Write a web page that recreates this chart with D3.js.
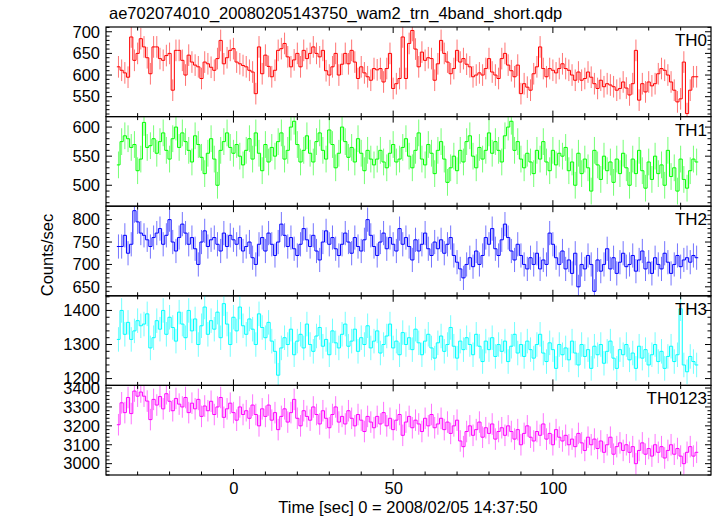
<!DOCTYPE html>
<html><head><meta charset="utf-8">
<script src="https://cdn.jsdelivr.net/npm/d3@7"></script>
<style>
html,body{margin:0;padding:0;background:#fff;}
svg{display:block;font-family:"Liberation Sans",Arial,Helvetica,sans-serif;}
</style></head>
<body><svg id="c" width="717" height="516"></svg>
<script>
const title = "ae702074010_20080205143750_wam2_trn_4band_short.qdp";
const xLabel = "Time [sec] 0 = 2008/02/05 14:37:50";
const yLabel = "Counts/sec";
const binStart = -36;   // centre of first 1-s bin
const binWidth = 1;
const xTickMajor = [0, 50, 100];
const xTickMinor = [-30,-20,-10,10,20,30,40,60,70,80,90,110,120,130,140];

const names = ["TH0","TH1","TH2","TH3","TH0123"];
const colors = ["#ff0000","#00ff00","#0000ff","#00ffff","#ff00ff"];
const yDomains = [[504,711],[464,618],[630,830],[1180,1443],[2940,3414]];
const yTickLabels = [[550,600,650,700],[500,550,600],[650,700,750,800],[1200,1300,1400],[3000,3100,3200,3300,3400]];
const yMinorStep = [10,10,10,20,20];
const errors = [25,23,27,36,57];

const th0 = [
619,611,605,595,688,634,650,684,665,640,
603,665,665,638,634,645,650,565,657,657,
634,600,646,630,623,619,592,630,626,618,
611,638,680,626,640,657,661,630,626,622,
619,611,607,557,665,603,646,620,596,611,
657,661,673,642,619,635,650,619,657,638,
650,665,650,642,657,610,600,619,650,600,
625,650,626,657,630,592,619,605,596,588,
615,612,615,584,615,650,569,580,592,688,
592,673,703,660,619,653,634,640,638,588,
626,680,650,630,603,615,657,630,638,625,
619,596,600,605,600,615,638,607,600,592,
638,650,623,610,596,623,557,580,572,565,
603,619,665,615,596,615,611,605,615,626,
615,611,600,588,607,588,592,607,595,580,
569,588,573,580,577,573,565,569,584,570,
554,580,657,542,580,561,584,575,580,603,
615,611,600,584,565,538,545,630,511,565,
596,596];
const th1 = [
535,575,585,580,565,570,525,545,608,565,
568,580,555,575,590,560,545,580,600,565,
590,575,560,540,585,570,548,520,555,580,
545,500,560,575,590,565,555,570,550,535,
560,580,545,590,555,525,570,540,565,550,
575,590,545,560,600,610,570,540,560,585,
555,540,575,590,560,545,595,570,530,555,
600,575,548,565,540,580,555,525,560,545,
535,545,560,540,530,555,570,540,545,565,
580,550,530,560,590,545,535,570,555,520,
560,575,545,505,530,550,525,560,540,575,
585,550,530,565,545,560,590,555,575,560,
540,585,600,610,560,575,545,530,555,540,
520,560,545,575,540,525,560,535,555,550,
565,525,540,500,555,520,545,530,490,560,
535,510,550,525,540,505,545,520,555,530,
500,545,520,560,525,495,540,510,550,520,
535,500,560,515,530,490,545,510,495,525,
545,540];
const th2 = [
740,740,765,725,745,820,795,770,765,755,
740,760,770,780,745,765,800,750,730,760,
790,770,745,760,735,700,750,775,740,755,
760,745,730,770,740,765,755,745,760,730,
740,750,715,700,745,760,730,770,745,720,
750,790,765,740,760,735,720,745,780,755,
740,765,730,710,750,775,745,760,735,720,
745,770,750,725,760,740,730,755,800,765,
740,720,750,770,735,760,745,730,780,745,
760,740,710,755,730,745,770,735,720,750,
735,755,725,745,760,720,705,690,670,700,
715,695,730,700,720,760,745,780,735,720,
755,790,760,730,710,745,720,700,690,715,
700,725,690,710,700,770,745,715,700,730,
690,710,680,725,650,700,690,720,700,640,
710,685,700,735,690,715,680,705,725,695,
700,720,685,710,730,690,705,680,715,700,
690,725,705,680,700,720,695,710,715,705,
720,715];
const th3 = [
1315,1400,1330,1365,1315,1340,1370,1355,1360,1390,
1290,1320,1370,1345,1400,1330,1380,1350,1310,1395,
1360,1320,1400,1340,1375,1300,1355,1410,1330,1370,
1345,1395,1320,1420,1360,1300,1380,1340,1410,1355,
1330,1375,1345,1300,1390,1350,1320,1365,1310,1280,
1210,1290,1320,1300,1345,1270,1310,1330,1290,1360,
1300,1280,1325,1350,1295,1315,1270,1340,1305,1290,
1330,1360,1295,1310,1345,1280,1320,1300,1355,1290,
1310,1340,1275,1300,1325,1360,1290,1310,1270,1335,
1300,1320,1285,1345,1305,1270,1310,1330,1290,1260,
1305,1325,1280,1300,1350,1295,1260,1310,1285,1320,
1300,1270,1330,1295,1250,1310,1285,1320,1265,1300,
1280,1310,1250,1295,1330,1275,1300,1265,1310,1285,
1260,1300,1330,1275,1250,1305,1285,1230,1300,1270,
1290,1255,1310,1275,1240,1300,1265,1285,1230,1295,
1270,1300,1245,1280,1310,1260,1230,1285,1270,1300,
1255,1275,1230,1295,1260,1285,1240,1270,1300,1250,
1280,1230,1265,1295,1250,1270,1405,1240,1220,1265,
1250,1240];
const th0123 = [
3206,3322,3270,3350,3265,3384,3357,3379,3357,3331,
3233,3340,3310,3355,3290,3370,3330,3280,3345,3315,
3300,3350,3270,3320,3290,3340,3250,3305,3280,3330,
3260,3300,3350,3245,3290,3320,3270,3230,3300,3260,
3280,3240,3310,3260,3200,3290,3250,3310,3230,3270,
3180,3250,3290,3220,3270,3340,3240,3200,3280,3250,
3230,3300,3260,3210,3280,3240,3190,3260,3300,3220,
3250,3210,3280,3240,3200,3260,3230,3170,3250,3220,
3190,3250,3210,3270,3200,3240,3180,3230,3260,3150,
3220,3250,3190,3230,3210,3170,3240,3200,3260,3190,
3210,3240,3180,3220,3160,3200,3230,3120,3090,3170,
3200,3150,3180,3220,3140,3190,3160,3210,3130,3170,
3190,3150,3200,3170,3130,3180,3100,3160,3200,3140,
3120,3170,3150,3210,3130,3160,3100,3180,3140,3120,
3150,3100,3130,3090,3160,3110,3070,3140,3100,3130,
3080,3120,3060,3100,3140,3050,3090,3110,3070,3100,
3060,3090,3000,3070,3110,3050,3080,3040,3100,3060,
3090,3030,3070,3100,3050,3080,3040,3000,3060,3090,
3040,3060];
const series = [th0, th1, th2, th3, th0123];

const svg = d3.select("#c");
const pLeft = 106, pRight = 711, pTop = 27, pBottom = 475;
const panelH = (pBottom - pTop) / names.length;
const x = d3.scaleLinear().domain([-39.9, 149.5]).range([pLeft, pRight]);
const FONT = "Liberation Sans,Arial,sans-serif";

svg.append("text").attr("x", 109).attr("y", 19).attr("font-size", 16.5).attr("fill", "#000").text(title);

series.forEach((vals, k) => {
  const y0 = pTop + k * panelH, y1 = y0 + panelH;
  const y = d3.scaleLinear().domain(yDomains[k]).range([y1, y0]);
  const g = svg.append("g");
  const clipId = "clip" + k;
  svg.append("clipPath").attr("id", clipId).append("rect")
    .attr("x", pLeft).attr("y", y0).attr("width", pRight - pLeft).attr("height", panelH);
  const data = vals.map((v, i) => ({t: binStart + i * binWidth, v}));
  const gd = g.append("g").attr("clip-path", `url(#${clipId})`);
  gd.selectAll("line.err").data(data).join("line")
    .attr("x1", d => x(d.t)).attr("x2", d => x(d.t))
    .attr("y1", d => y(d.v - errors[k])).attr("y2", d => y(d.v + errors[k]))
    .attr("stroke", colors[k]).attr("stroke-opacity", 0.55).attr("stroke-width", 1);
  const pts = data.map(d => ({t: d.t - binWidth / 2, v: d.v}));
  pts.push({t: data[data.length - 1].t + binWidth / 2, v: data[data.length - 1].v});
  const line = d3.line().x(d => x(d.t)).y(d => y(d.v)).curve(d3.curveStepAfter);
  gd.append("path").attr("d", line(pts)).attr("fill", "none")
    .attr("stroke", colors[k]).attr("stroke-width", 1);

  g.append("rect").attr("x", pLeft).attr("y", y0).attr("width", pRight - pLeft).attr("height", panelH)
    .attr("fill", "none").attr("stroke", "#000").attr("stroke-width", 1.2);

  const tk = g.append("g").attr("stroke", "#000").attr("stroke-width", 1);
  xTickMajor.forEach(t => {
    tk.append("line").attr("x1", x(t)).attr("x2", x(t)).attr("y1", y1).attr("y2", y1 - 6);
    tk.append("line").attr("x1", x(t)).attr("x2", x(t)).attr("y1", y0).attr("y2", y0 + 6);
  });
  xTickMinor.forEach(t => {
    tk.append("line").attr("x1", x(t)).attr("x2", x(t)).attr("y1", y1).attr("y2", y1 - 3.5);
    tk.append("line").attr("x1", x(t)).attr("x2", x(t)).attr("y1", y0).attr("y2", y0 + 3.5);
  });
  const [dmin, dmax] = yDomains[k];
  const minor = d3.range(Math.ceil(dmin / yMinorStep[k]) * yMinorStep[k], dmax, yMinorStep[k]);
  minor.forEach(v => {
    const isMajor = yTickLabels[k].includes(v);
    const len = isMajor ? 6 : 3.5;
    tk.append("line").attr("x1", pLeft).attr("x2", pLeft + len).attr("y1", y(v)).attr("y2", y(v));
    tk.append("line").attr("x1", pRight).attr("x2", pRight - len).attr("y1", y(v)).attr("y2", y(v));
  });
  const yAxis = d3.axisLeft(y).tickValues(yTickLabels[k]).tickSize(0).tickPadding(6).tickFormat(d3.format("d"));
  const ax = g.append("g").attr("transform", `translate(${pLeft},0)`).call(yAxis);
  ax.select(".domain").remove();
  ax.selectAll("text").attr("font-size", 16.5).attr("font-family", FONT).attr("fill", "#000");

  g.append("text").attr("x", pRight - 4).attr("y", y0 + 19).attr("text-anchor", "end")
    .attr("font-size", 17).attr("font-family", FONT).attr("fill", "#000").text(names[k]);
});

const xAxis = d3.axisBottom(x).tickValues(xTickMajor).tickSize(0).tickPadding(7).tickFormat(d3.format("d"));
const bx = svg.append("g").attr("transform", `translate(0,${pBottom})`).call(xAxis);
bx.select(".domain").remove();
bx.selectAll("text").attr("font-size", 16.5).attr("font-family", FONT).attr("fill", "#000");

svg.append("text").attr("x", 408).attr("y", 513).attr("text-anchor", "middle")
  .attr("font-size", 16.5).attr("fill", "#000").text(xLabel);
svg.append("text").attr("transform", `translate(53,255) rotate(-90)`)
  .attr("text-anchor", "middle").attr("font-size", 16.5).attr("fill", "#000").text(yLabel);
</script></body></html>
